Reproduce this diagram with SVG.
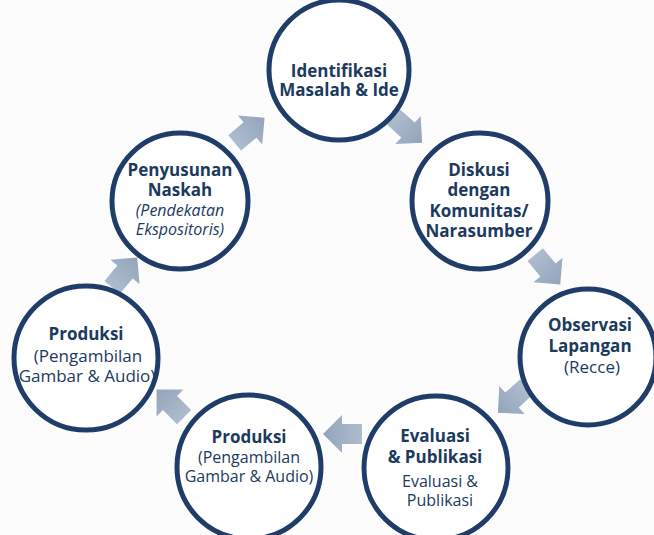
<svg xmlns="http://www.w3.org/2000/svg" xmlns:xlink="http://www.w3.org/1999/xlink" width="654" height="535" viewBox="0 0 654 535">
<style>
.c{fill:#ffffff;stroke:#1f3d68;stroke-width:5}
.t{font-family:"Open Sans","Noto Sans","Liberation Sans",sans-serif;fill:#1c3a5e;text-anchor:middle}
.b{font-size:17px;font-weight:700}
.r{font-size:16px;font-weight:400}
.rl{font-size:17px;font-weight:400}
.i{font-size:16px;font-weight:400;font-style:italic}
</style>
<defs>
<linearGradient id="ag" x1="0" y1="0" x2="1" y2="0">
<stop offset="0" stop-color="#aebccd"/>
<stop offset="1" stop-color="#93a4bb"/>
</linearGradient>
<path id="arr" d="M-20,-10 H0 V-19 L19,0 L0,19 V10 H-20 Z" fill="url(#ag)"/>
</defs>
<rect width="654" height="535" fill="#fcfcfd"/>
<g id="connectors">
<use xlink:href="#arr" transform="translate(408,130) rotate(42)"/>
<use xlink:href="#arr" transform="translate(548,270) rotate(50)"/>
<use xlink:href="#arr" transform="translate(512,400) rotate(138)"/>
<use xlink:href="#arr" transform="translate(342,434) rotate(180)"/>
<use xlink:href="#arr" transform="translate(170,403) rotate(225)"/>
<use xlink:href="#arr" transform="translate(125,272) rotate(-50)"/>
<use xlink:href="#arr" transform="translate(250,130) rotate(-40)"/>
</g>
<g id="n1">
<circle class="c" cx="339" cy="70" r="70"/>
<text class="t b" x="339" y="77">Identifikasi</text>
<text class="t b" x="339" y="96">Masalah &amp; Ide</text>
</g>
<g id="n2">
<circle class="c" cx="480" cy="201" r="68"/>
<text class="t b" x="479" y="176">Diskusi</text>
<text class="t b" x="479" y="196">dengan</text>
<text class="t b" x="479" y="217">Komunitas/</text>
<text class="t b" x="479" y="237">Narasumber</text>
</g>
<g id="n3">
<circle class="c" cx="588" cy="357" r="68"/>
<text class="t b" x="590" y="331">Observasi</text>
<text class="t b" x="590" y="352">Lapangan</text>
<text class="t rl" x="592" y="373">(Recce)</text>
</g>
<g id="n4">
<circle class="c" cx="436" cy="468" r="72"/>
<text class="t b" x="435" y="442">Evaluasi</text>
<text class="t b" x="435" y="463">&amp; Publikasi</text>
<text class="t r" x="440" y="487">Evaluasi &amp;</text>
<text class="t r" x="440" y="506">Publikasi</text>
</g>
<g id="n5">
<circle class="c" cx="249" cy="467" r="72"/>
<text class="t b" x="249" y="443">Produksi</text>
<text class="t r" x="249" y="463">(Pengambilan</text>
<text class="t r" x="249" y="482">Gambar &amp; Audio)</text>
</g>
<g id="n6">
<circle class="c" cx="86" cy="358" r="72"/>
<text class="t b" x="86" y="340">Produksi</text>
<text class="t rl" x="88" y="362">(Pengambilan</text>
<text class="t rl" x="87" y="382">Gambar &amp; Audio)</text>
</g>
<g id="n7">
<circle class="c" cx="180" cy="201" r="68"/>
<text class="t b" x="180" y="176">Penyusunan</text>
<text class="t b" x="180" y="196">Naskah</text>
<text class="t i" x="180" y="216">(Pendekatan</text>
<text class="t i" x="180" y="235">Ekspositoris)</text>
</g>
</svg>
